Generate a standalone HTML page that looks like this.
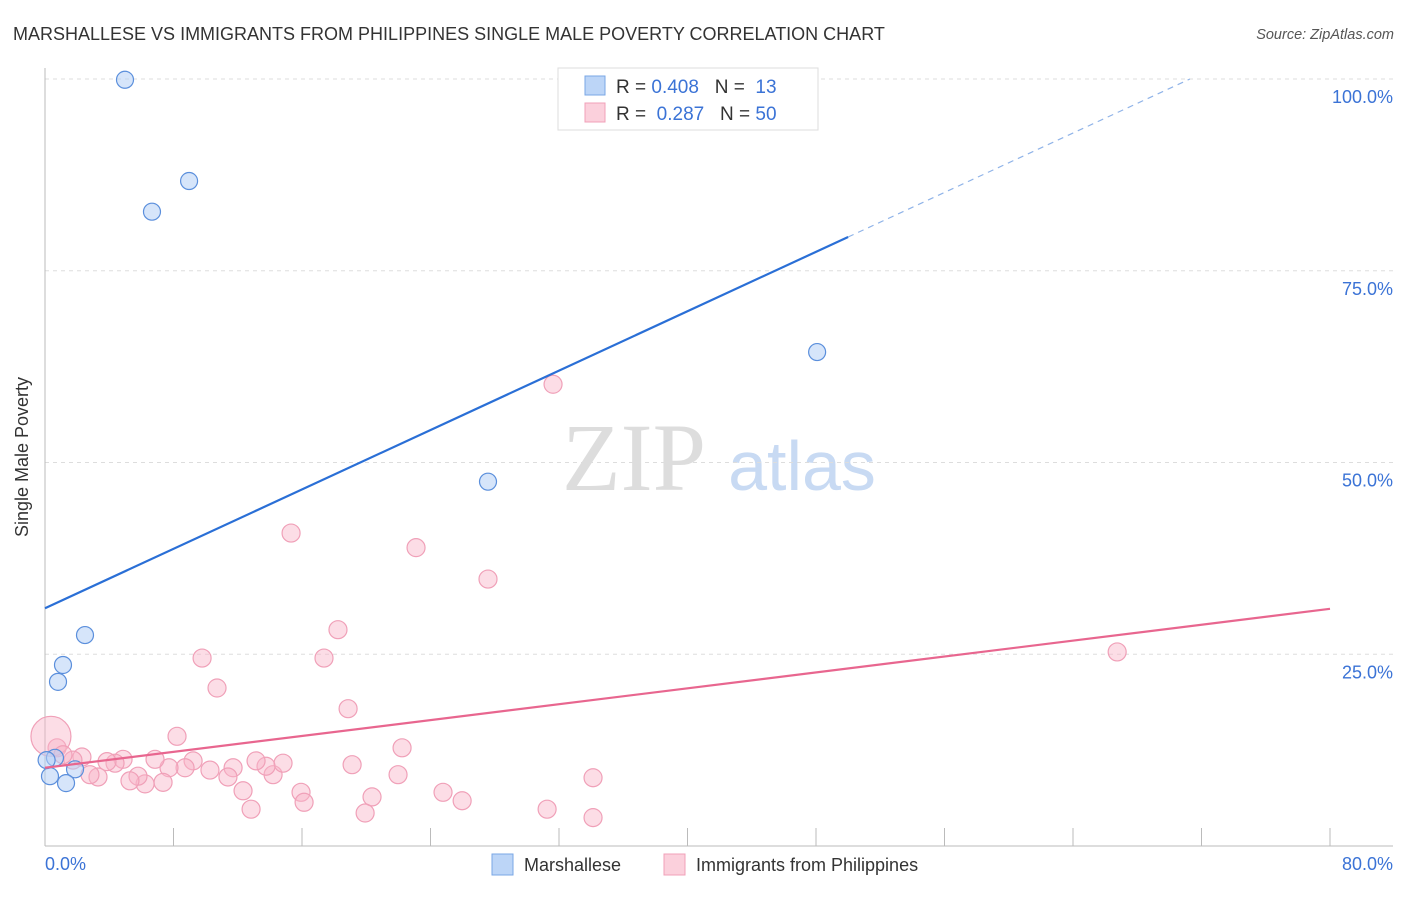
<!DOCTYPE html>
<html><head><meta charset="utf-8"><style>
body{margin:0;background:#fff;font-family:"Liberation Sans",sans-serif}
svg text{font-family:"Liberation Sans",sans-serif;white-space:pre}
</style></head><body>
<svg id="c" width="1406" height="892" xmlns="http://www.w3.org/2000/svg">
<text x="13" y="40" font-size="18" fill="#333">MARSHALLESE VS IMMIGRANTS FROM PHILIPPINES SINGLE MALE POVERTY CORRELATION CHART</text>
<text x="1394" y="39" font-size="14.5" fill="#555" font-style="italic" text-anchor="end">Source: ZipAtlas.com</text>
<g>
<text x="634" y="490" font-size="96" fill="#ddd" font-family="Liberation Serif" text-anchor="middle" style="font-family:'Liberation Serif',serif">ZIP</text>
<text x="802" y="490" font-size="70" fill="#c8daf3" text-anchor="middle">atlas</text>
</g>
<g id="grid"></g><g id="axes"></g><g id="marks"></g>
<text x="28" y="457" font-size="18" fill="#333" transform="rotate(-90 28 457)" text-anchor="middle">Single Male Poverty</text>
<text x="45" y="870" font-size="18" fill="#3b73d6">0.0%</text>
<text x="1393" y="870" font-size="18" fill="#3b73d6" text-anchor="end">80.0%</text>
<g>
<rect x="558" y="68" width="260" height="62" fill="#fff" stroke="#ddd"/>
<rect x="585" y="76" width="20" height="19" fill="#bcd5f7" stroke="#7aa7e6"/>
<text x="616" y="93" font-size="19" fill="#333" xml:space="preserve">R = <tspan fill="#3b73d6">0.408</tspan>   N =  <tspan fill="#3b73d6">13</tspan></text>
<rect x="585" y="103" width="20" height="19" fill="#fbd0dc" stroke="#f0a0b8"/>
<text x="616" y="120" font-size="19" fill="#333" xml:space="preserve">R =  <tspan fill="#3b73d6">0.287</tspan>   N = <tspan fill="#3b73d6">50</tspan></text>
</g>
<g>
<rect x="492" y="854" width="21" height="21" fill="#bcd5f7" stroke="#7aa7e6"/>
<text x="524" y="871" font-size="18" fill="#333">Marshallese</text>
<rect x="664" y="854" width="21" height="21" fill="#fbd0dc" stroke="#f0a0b8"/>
<text x="696" y="871" font-size="18" fill="#333">Immigrants from Philippines</text>
</g>
</svg>
<script>
const yTicks=[25,50,75,100];
const yTickLabels=["25.0%","50.0%","75.0%","100.0%"];
const xTicks=[8,16,24,32,40,48,56,64,72,80];
const blueX=[4.98,8.97,6.66,48.07,27.58,2.49,1.12,0.81,0.62,0.31,1.87,1.31,0.1];
const blueY=[99.9,86.7,82.7,64.4,47.5,27.5,23.6,21.4,11.5,9.1,10.0,8.2,11.2];
const pinkX=[18.87,8.22,22.23,19.12,21.98,20.36,19.93,15.94,16.13,12.83,12.33,14.2,14.82,13.76,13.14,11.71,11.39,10.27,9.22,8.72,7.72,7.35,6.85,6.23,5.79,5.29,4.86,4.36,3.86,3.3,2.8,2.3,1.74,0.75,0.37,1.12,24.78,25.97,31.26,34.12,34.12,31.63,15.32,23.1,27.58,18.24,17.37,9.78,10.71,66.75];
const pinkY=[17.9,14.3,12.8,10.6,9.3,6.4,4.3,7.0,5.7,4.8,7.2,9.3,10.8,10.4,11.1,10.2,9.0,9.9,11.1,10.2,10.2,8.3,11.3,8.1,9.1,8.5,11.3,10.8,11.0,9.0,9.3,11.6,11.2,12.8,14.3,11.9,7.0,5.9,4.8,8.9,3.7,60.2,40.8,38.9,34.8,28.2,24.5,24.5,20.6,25.3];
const blueTrend=[31.0,0.968];
const pinkTrend=[10.2,0.259];
const NS="http://www.w3.org/2000/svg";
const X=v=>45+v*1285/80, Y=v=>846-v*7.67;
function mk(t,a,p){const e=document.createElementNS(NS,t);for(const k in a)e.setAttribute(k,a[k]);document.getElementById(p).appendChild(e);return e;}
yTicks.forEach((t,i)=>{
 const g=mk('line',{x1:45,x2:1393,y1:Y(t),y2:Y(t),stroke:'#ddd','stroke-dasharray':'4 4'},'grid');
 
 
 const l=mk('text',{x:1393,y:Y(t)+24,'font-size':18,fill:'#3b73d6','text-anchor':'end'},'grid');
 l.textContent=yTickLabels[i];
 
 
});
const ax=mk('line',{x1:45,x2:45,y1:68,y2:846,stroke:'#bbb'},'axes');


const bx=mk('line',{x1:45,x2:1393,y1:846,y2:846,stroke:'#bbb'},'axes');


xTicks.forEach(t=>{
 const e=mk('line',{x1:X(t),x2:X(t),y1:828,y2:846,stroke:'#bbb'},'axes');
 
 
});
pinkX.forEach((x,i)=>{
 const e=mk('circle',{cx:X(x),cy:Y(pinkY[i]),r:i==34?20:9,fill:'rgba(248,180,200,0.45)',stroke:'#f0a0b8','stroke-width':1.2},'marks');
 
 
});
blueX.forEach((x,i)=>{
 const e=mk('circle',{cx:X(x),cy:Y(blueY[i]),r:8.5,fill:'rgba(180,208,245,0.55)',stroke:'#5b8fdc','stroke-width':1.2},'marks');
 
 
});
const xs=50, xe=(100-blueTrend[0])/blueTrend[1];
const b1=mk('line',{x1:X(0),y1:Y(blueTrend[0]),x2:X(xs),y2:Y(blueTrend[0]+blueTrend[1]*xs),stroke:'#2a6fd6','stroke-width':2.2},'marks');


const b2=mk('line',{x1:X(xs),y1:Y(blueTrend[0]+blueTrend[1]*xs),x2:X(xe),y2:Y(100),stroke:'#8fb3e8','stroke-width':1.2,'stroke-dasharray':'6 5'},'marks');


const p1=mk('line',{x1:X(0),y1:Y(pinkTrend[0]),x2:X(80),y2:Y(pinkTrend[0]+pinkTrend[1]*80),stroke:'#e8668f','stroke-width':2.2},'marks');


</script>
</body></html>
